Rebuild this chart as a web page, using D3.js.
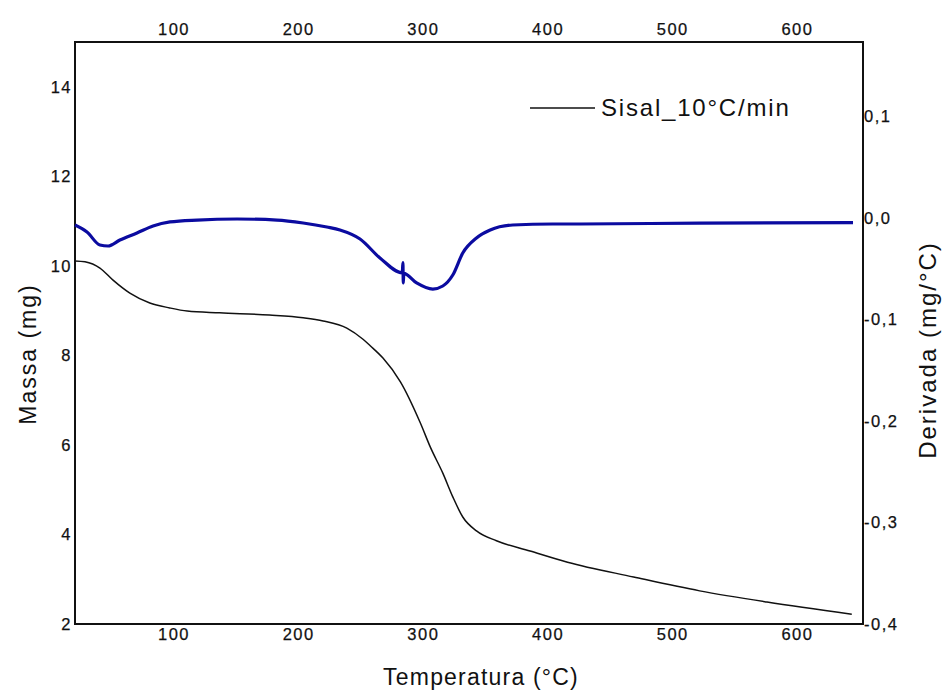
<!DOCTYPE html>
<html>
<head>
<meta charset="utf-8">
<script src="https://cdn.jsdelivr.net/npm/d3@7"></script>
<style>
  body { margin: 0; background: #fff; }
  svg { display: block; }
  text { font-family: "Liberation Sans", Arial, sans-serif; }
</style>
</head>
<body>
<svg id="chart" width="942" height="692"></svg>
<script>
// ---- Data ----
const massTemp = [21, 29, 41, 51.5, 65, 81, 97, 111, 137, 177, 204, 220, 239, 252, 258, 268, 282, 298, 306, 316, 324, 332, 343, 359, 386, 416, 469, 522, 576, 644];
const massValues = [10.11, 10.09, 9.95, 9.68, 9.39, 9.17, 9.06, 8.99, 8.95, 8.90, 8.84, 8.77, 8.61, 8.36, 8.21, 7.94, 7.41, 6.49, 5.95, 5.37, 4.84, 4.39, 4.08, 3.86, 3.63, 3.38, 3.05, 2.74, 2.49, 2.22];

const derivTemp = [21, 30.6, 41, 47.5, 57, 70.7, 83.6, 97.2, 119, 151, 183, 204, 223, 233.5, 249.6, 265.6, 283.5, 284, 284.3, 284.7, 295, 308, 316, 324, 332, 343, 354, 372, 404, 426, 522, 645];
const derivValues = [-0.0069, -0.0138, -0.0266, -0.0276, -0.0217, -0.0148, -0.0079, -0.0039, -0.0020, -0.0010, -0.0020, -0.0049, -0.0089, -0.0118, -0.0207, -0.0394, -0.0540, -0.0440, -0.0640, -0.0545, -0.0640, -0.0700, -0.0670, -0.0562, -0.0345, -0.0197, -0.0118, -0.0069, -0.0059, -0.0059, -0.0050, -0.0046];

const xTicks = [100, 200, 300, 400, 500, 600];
const leftTicks = [2, 4, 6, 8, 10, 12, 14];
const rightTicks = [0.1, 0.0, -0.1, -0.2, -0.3, -0.4];
const rightTickLabels = ["0,1", "0,0", "-0,1", "-0,2", "-0,3", "-0,4"];

const legendLabel = "Sisal_10°C/min";
const xTitle = "Temperatura (°C)";
const yLeftTitle = "Massa (mg)";
const yRightTitle = "Derivada (mg/°C)";

// ---- Layout ----
const svg = d3.select("#chart");
const L = 75, R = 863, T = 42, B = 624;

const x = d3.scaleLinear().domain([21, 653]).range([L, R]);
const yL = d3.scaleLinear().domain([2, 15]).range([B, T]);
const yR = d3.scaleLinear().domain([-0.4, 0.1734]).range([B, T]);

// Axes (no tick marks)
const fontTick = 16.5;
const gBottom = svg.append("g").attr("transform", `translate(0,${B})`)
  .call(d3.axisBottom(x).tickValues(xTicks).tickSize(0).tickPadding(4).tickFormat(d3.format("d")));
const gTop = svg.append("g").attr("transform", `translate(0,${T})`)
  .call(d3.axisTop(x).tickValues(xTicks).tickSize(0).tickPadding(7).tickFormat(d3.format("d")));
const gLeft = svg.append("g").attr("transform", `translate(${L},0)`)
  .call(d3.axisLeft(yL).tickValues(leftTicks).tickSize(0).tickPadding(3).tickFormat(d3.format("d")));
const gRight = svg.append("g").attr("transform", `translate(${R},0)`)
  .call(d3.axisRight(yR).tickValues(rightTicks).tickSize(0).tickPadding(1)
    .tickFormat((d, i) => rightTickLabels[i]));

[gBottom, gTop, gLeft, gRight].forEach(g => {
  g.select(".domain").remove();
  g.selectAll("text").attr("font-size", fontTick).attr("fill", "#111")
    .attr("letter-spacing", 1.5)
    .attr("stroke", "#111").attr("stroke-width", 0.25)
    .attr("font-family", "'Liberation Sans', Arial, sans-serif");
});

// Frame
svg.append("rect").attr("x", L).attr("y", T).attr("width", R - L).attr("height", B - T)
  .attr("fill", "none").attr("stroke", "#111").attr("stroke-width", 2);

// Lines
const massData = massTemp.map((t, i) => [t, massValues[i]]);
const derivData = derivTemp.map((t, i) => [t, derivValues[i]]);

svg.append("path").datum(derivData)
  .attr("fill", "none").attr("stroke", "#0b0ba0").attr("stroke-width", 3.2)
  .attr("stroke-linejoin", "round")
  .attr("d", d3.line().x(d => x(d[0])).y(d => yR(d[1])).curve(d3.curveMonotoneX));

svg.append("path").datum(massData)
  .attr("fill", "none").attr("stroke", "#111").attr("stroke-width", 1.5)
  .attr("d", d3.line().x(d => x(d[0])).y(d => yL(d[1])).curve(d3.curveMonotoneX));

// Legend
svg.append("line").attr("x1", 530).attr("x2", 595).attr("y1", 108).attr("y2", 108)
  .attr("stroke", "#111").attr("stroke-width", 1.5);
svg.append("text").attr("x", 601).attr("y", 116).attr("font-size", 24).attr("fill", "#111")
  .attr("letter-spacing", 1.8).text(legendLabel);

// Axis titles
svg.append("text").attr("x", 481).attr("y", 685).attr("text-anchor", "middle")
  .attr("font-size", 23).attr("fill", "#111").attr("letter-spacing", 1.2).text(xTitle);
svg.append("text").attr("transform", "translate(36,354) rotate(-90)").attr("text-anchor", "middle")
  .attr("font-size", 23).attr("fill", "#111").attr("letter-spacing", 2).text(yLeftTitle);
svg.append("text").attr("transform", "translate(936,350) rotate(-90)").attr("text-anchor", "middle")
  .attr("font-size", 24).attr("fill", "#111").attr("letter-spacing", 2).text(yRightTitle);
</script>
</body>
</html>
